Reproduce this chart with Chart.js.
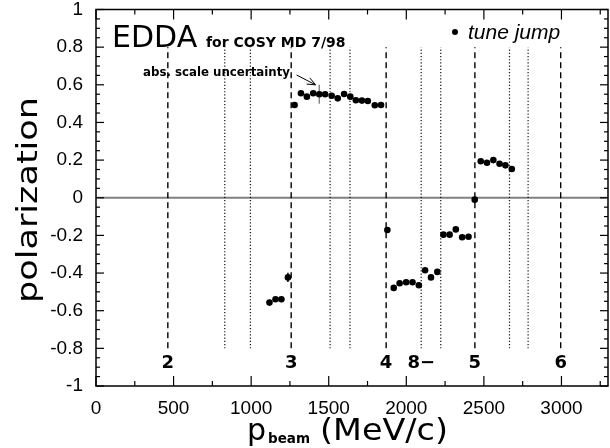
<!DOCTYPE html>
<html>
<head>
<meta charset="utf-8">
<script src="https://cdn.jsdelivr.net/npm/chart.js@4.4.1/dist/chart.umd.min.js"></script>
<style>
  html, body { margin: 0; padding: 0; background: #fff; overflow: hidden; }
  #wrap { width: 612px; height: 448px; position: relative; }
</style>
</head>
<body>
<div id="wrap"><canvas id="chart"></canvas></div>
<script>
// ─── data ────────────────────────────────────────────────────────────────────
const pBeam = [
  1118, 1157, 1195, 1237,
  1280, 1321, 1359, 1400, 1439, 1477, 1519, 1558, 1599, 1639, 1675, 1714, 1752, 1797, 1837,
  1878, 1919, 1957, 1999, 2040, 2081, 2121, 2159, 2200,
  2239, 2279, 2319, 2360, 2401, 2441,
  2480, 2520, 2561, 2601, 2639, 2680,
];
const polarization = [
  -0.557, -0.539, -0.539, -0.423,
  0.493, 0.555, 0.537, 0.555, 0.550, 0.550, 0.542, 0.528, 0.551, 0.537, 0.518, 0.516, 0.514, 0.491, 0.493,
  -0.171, -0.479, -0.454, -0.449, -0.449, -0.465, -0.385, -0.423, -0.394,
  -0.196, -0.196, -0.168, -0.210, -0.207, -0.010,
  0.194, 0.186, 0.200, 0.181, 0.172, 0.153,
];

// resonance markers
const dashedLines = [463, 1258, 1870, 2442, 2995];
const dottedLines = [830, 995, 1509, 1637, 2096, 2222, 2665, 2785];
const lineSpan    = [-0.8, 0.8];
const lineLabels  = ['2', '3', '4', '8\u2212', '5', '6'];
const lineLabelX  = [463, 1258, 1870, 2096, 2442, 2995];
const lineLabelY  = -0.87;

// error bars
const errX    = [1237, 1439];
const errLow  = [-0.448, 0.50];
const errHigh = [-0.398, 0.60];
const errColor = ['#000', '#888'];

// "abs. scale uncertainty" arrow (from, to)
const arrowX = [1293, 1415];
const arrowY = [0.652, 0.600];

// axes
const xRange = [0, 3300];
const yRange = [-1, 1];
const xTicks = [0, 500, 1000, 1500, 2000, 2500, 3000];
const yTicks = [-1, -0.8, -0.6, -0.4, -0.2, 0, 0.2, 0.4, 0.6, 0.8, 1];
const xMinorStep = 250;
const yMinorStep = 0.05;

// ─── datasets ────────────────────────────────────────────────────────────────
const vline = (x, dash, color, width) => ({
  data: [{ x, y: lineSpan[0] }, { x, y: lineSpan[1] }],
  showLine: true, pointRadius: 0, borderColor: color, borderWidth: width, borderDash: dash,
});

const datasets = [
  {
    data: pBeam.map((x, i) => ({ x, y: polarization[i] })),
    pointRadius: 3.3, backgroundColor: '#000', borderWidth: 0,
  },
  ...errX.map((x, i) => ({
    data: [{ x, y: errLow[i] }, { x, y: errHigh[i] }],
    showLine: true, pointRadius: 0, borderColor: errColor[i], borderWidth: 1.5,
  })),
  ...dashedLines.map(x => vline(x, [6, 4], '#000', 1.4)),
  ...dottedLines.map(x => vline(x, [1.2, 2], '#111', 1.2)),
  {
    data: [{ x: xRange[0], y: 0 }, { x: xRange[1], y: 0 }],
    showLine: true, pointRadius: 0, borderColor: '#808080', borderWidth: 2,
  },
];

// ─── helpers ─────────────────────────────────────────────────────────────────
function seg(ctx, x1, y1, x2, y2) {
  ctx.beginPath(); ctx.moveTo(x1, y1); ctx.lineTo(x2, y2); ctx.stroke();
}
function stretchText(ctx, text, x, y, width) {
  const w = ctx.measureText(text).width;
  ctx.save();
  ctx.translate(x, y);
  ctx.scale(width / w, 1);
  ctx.fillText(text, 0, 0);
  ctx.restore();
}

// frame, inward ticks, annotations
const decor = {
  id: 'decor',
  afterDatasetsDraw(chart) {
    const { ctx, chartArea: a, scales: { x, y } } = chart;
    ctx.save();
    ctx.strokeStyle = '#000';
    ctx.fillStyle = '#000';

    // frame
    ctx.lineWidth = 1.5;
    ctx.strokeRect(a.left, a.top, a.right - a.left, a.bottom - a.top);

    // inward ticks
    ctx.lineWidth = 1.2;
    for (let v = xRange[0]; v <= xRange[1]; v += xMinorStep) {
      const px = x.getPixelForValue(v);
      const len = xTicks.includes(v) ? 10 : 5;
      seg(ctx, px, a.bottom, px, a.bottom - len);
      seg(ctx, px, a.top, px, a.top + len);
    }
    for (let i = -20; i <= 20; i++) {
      const py = y.getPixelForValue(i * yMinorStep);
      const len = i % 4 === 0 ? 8 : 4;
      seg(ctx, a.left, py, a.left + len, py);
      seg(ctx, a.right, py, a.right - len, py);
    }

    // resonance labels
    ctx.font = 'bold 18px "DejaVu Sans"';
    ctx.textAlign = 'center';
    ctx.textBaseline = 'alphabetic';
    lineLabels.forEach((t, i) => {
      ctx.fillText(t, x.getPixelForValue(lineLabelX[i]), y.getPixelForValue(lineLabelY) + 6);
    });

    // title texts
    ctx.textAlign = 'left';
    ctx.font = '30px "DejaVu Sans"';
    ctx.fillText('EDDA', 112, 47);
    ctx.font = 'bold 14px "DejaVu Sans"';
    ctx.fillText('for COSY MD 7/98', 206, 47);
    ctx.font = 'bold 11.5px "DejaVu Sans"';
    stretchText(ctx, 'abs. scale uncertainty', 143, 75.5, 147);

    // arrow
    const x1 = x.getPixelForValue(arrowX[0]), y1 = y.getPixelForValue(arrowY[0]);
    const x2 = x.getPixelForValue(arrowX[1]), y2 = y.getPixelForValue(arrowY[1]);
    ctx.lineWidth = 1;
    seg(ctx, x1, y1, x2, y2);
    const ang = Math.atan2(y2 - y1, x2 - x1);
    [0.4, -0.4].forEach(d => {
      seg(ctx, x2, y2, x2 - 9 * Math.cos(ang + d), y2 - 9 * Math.sin(ang + d));
    });

    // legend
    ctx.beginPath(); ctx.arc(455, 32, 3, 0, Math.PI * 2); ctx.fill();
    ctx.font = 'italic 21px "Liberation Sans"';
    ctx.fillText('tune jump', 468, 39);

    // axis titles
    ctx.font = '30px "DejaVu Sans"';
    ctx.fillText('p', 247, 440);
    ctx.font = 'bold 13.5px "DejaVu Sans"';
    ctx.fillText('beam', 268, 443);
    ctx.font = '30px "DejaVu Sans"';
    stretchText(ctx, '(MeV/c)', 320, 440, 128);

    ctx.save();
    ctx.translate(37, 200);
    ctx.rotate(-Math.PI / 2);
    ctx.textAlign = 'center';
    ctx.font = '29px "DejaVu Sans"';
    stretchText(ctx, 'polarization', 0, 0, 206);
    ctx.restore();

    ctx.restore();
  },
};

const tickFont = { family: '"Liberation Sans", Arial, sans-serif', size: 19 };
const zeroPad = s => { s.paddingLeft = s.paddingRight = s.paddingTop = s.paddingBottom = 0; };

new Chart(document.getElementById('chart').getContext('2d'), {
  type: 'scatter',
  data: { datasets },
  options: {
    responsive: true, maintainAspectRatio: false, animation: false,
    layout: { padding: { top: 9.5, right: 0, bottom: 0, left: 0 } },
    plugins: { legend: { display: false }, tooltip: { enabled: false } },
    scales: {
      x: {
        type: 'linear', min: xRange[0], max: xRange[1],
        afterBuildTicks: s => { s.ticks = xTicks.map(value => ({ value })); },
        afterFit: s => { s.height = 62; zeroPad(s); },
        grid: { display: false }, border: { display: false },
        ticks: { color: '#000', font: tickFont, padding: 3, maxRotation: 0, autoSkip: false,
                 callback: v => String(v) },
      },
      y: {
        type: 'linear', min: yRange[0], max: yRange[1],
        afterBuildTicks: s => { s.ticks = yTicks.map(value => ({ value })); },
        afterFit: s => { s.width = 96; zeroPad(s); },
        grid: { display: false }, border: { display: false },
        ticks: { color: '#000', font: tickFont, padding: 5, autoSkip: false,
                 callback: v => String(Math.round(v * 10) / 10) },
      },
    },
  },
  plugins: [decor],
});
</script>
</body>
</html>
